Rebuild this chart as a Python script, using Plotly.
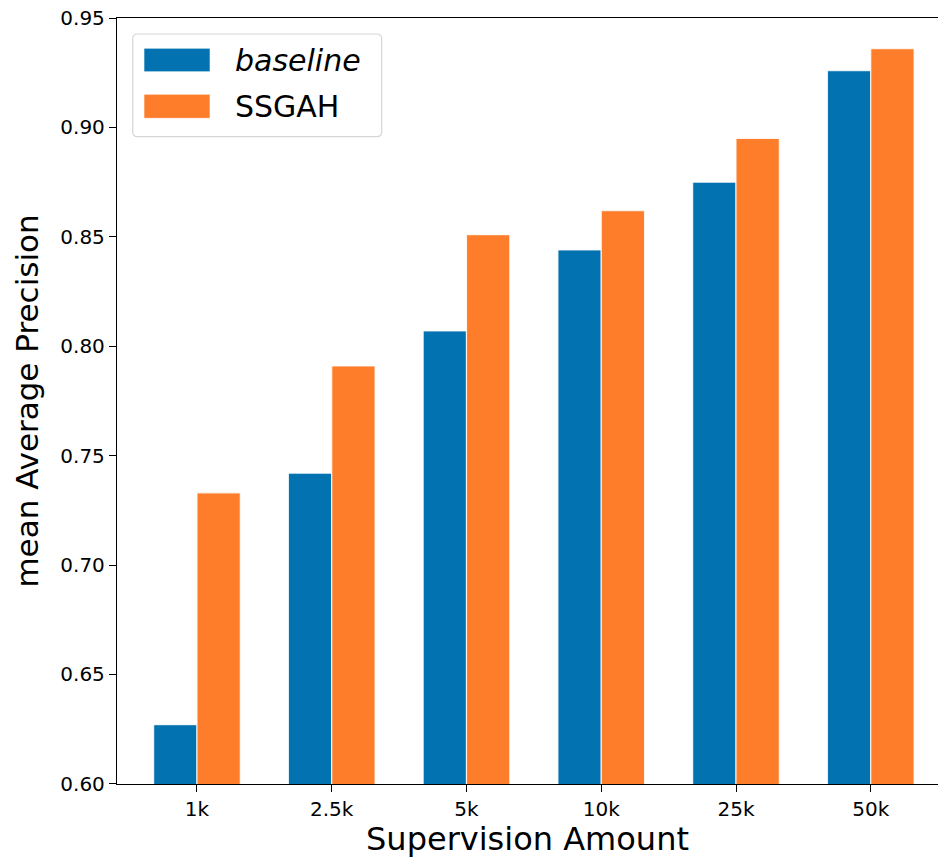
import plotly.graph_objects as go

categories = ["1k", "2.5k", "5k", "10k", "25k", "50k"]
baseline = [0.627, 0.742, 0.807, 0.844, 0.875, 0.926]
ssgah = [0.733, 0.791, 0.851, 0.862, 0.895, 0.936]
series_names = ["baseline", "SSGAH"]
colors = ["#0272b0", "#fe7d2a"]
y_ticks = [0.60, 0.65, 0.70, 0.75, 0.80, 0.85, 0.90, 0.95]

FONT = "DejaVu Sans"
x_idx = list(range(len(categories)))

fig = go.Figure()
for name, vals, col in zip(series_names, [baseline, ssgah], colors):
    fig.add_trace(go.Bar(
        x=x_idx, y=vals, name=name,
        marker=dict(color=col, line=dict(color="rgba(255,255,255,0.8)", width=1.2)),
        showlegend=False,
    ))

# legend drawn manually to match wide matplotlib patches (window pixel coords)
L = 117; R = 938; T = 18; B = 784
def px(xp): return (xp - L) / (R - L)
def py(yp): return (B - yp) / (B - T)

x0, x1, y0, y1 = px(132.7), px(381.7), py(136.7), py(34)
r = 0.006
path = (f"M {x0+r},{y0} L {x1-r},{y0} Q {x1},{y0} {x1},{y0+r*1.07} "
        f"L {x1},{y1-r*1.07} Q {x1},{y1} {x1-r},{y1} L {x0+r},{y1} "
        f"Q {x0},{y1} {x0},{y1-r*1.07} L {x0},{y0+r*1.07} Q {x0},{y0} {x0+r},{y0} Z")
shapes = [dict(type="path", xref="paper", yref="paper", path=path,
               fillcolor="rgba(255,255,255,0.8)", line=dict(color="#d6d6d6", width=1.2))]
annotations = []
rows = [(48.3, 71.7), (94.3, 118.3)]
for (ya, yb), name, col in zip(rows, series_names, colors):
    shapes.append(dict(type="rect", xref="paper", yref="paper",
                       x0=px(144), x1=px(210), y0=py(yb), y1=py(ya),
                       fillcolor=col, line=dict(color="rgba(255,255,255,0.6)", width=1)))
    txt = f"<i>{name}</i>" if name == "baseline" else name
    annotations.append(dict(xref="paper", yref="paper", x=px(233), y=py((ya + yb) / 2),
                            text=txt, showarrow=False, xanchor="left", yanchor="middle",
                            font=dict(family=FONT, size=30, color="black")))

fig.update_layout(
    width=938, height=858,
    margin=dict(l=117, r=0, t=18, b=74),
    paper_bgcolor="white", plot_bgcolor="white",
    barmode="group", bargap=0.357, bargroupgap=0.0,
    font=dict(family=FONT, color="black"),
    shapes=shapes, annotations=annotations,
)
fig.update_xaxes(
    range=[-0.5935, 5.499],
    tickmode="array", tickvals=x_idx, ticktext=categories,
    showgrid=False, zeroline=False, automargin=False,
    showline=True, linecolor="black", linewidth=1.3, mirror=True,
    ticks="outside", ticklen=7, tickwidth=1.3, tickcolor="black",
    tickfont=dict(family=FONT, size=20, color="black"),
    title=dict(text="Supervision Amount", font=dict(family=FONT, size=32, color="black"), standoff=6),
)
fig.update_yaxes(
    range=[0.5999, 0.95005],
    tickmode="array", tickvals=y_ticks, ticktext=[f"{v:.2f}" for v in y_ticks],
    showgrid=False, zeroline=False, automargin=False,
    showline=True, linecolor="black", linewidth=1.3, mirror=False,
    ticks="outside", ticklen=7, tickwidth=1.3, tickcolor="black",
    ticklabeloverflow="allow",
    tickfont=dict(family=FONT, size=20, color="black"),
    title=dict(text="mean Average Precision", font=dict(family=FONT, size=31, color="black"), standoff=12),
)

fig.write_html(
    "out.html",
    config={"displayModeBar": False},
    post_script="document.body.style.margin='0';document.body.style.overflow='hidden';",
)
